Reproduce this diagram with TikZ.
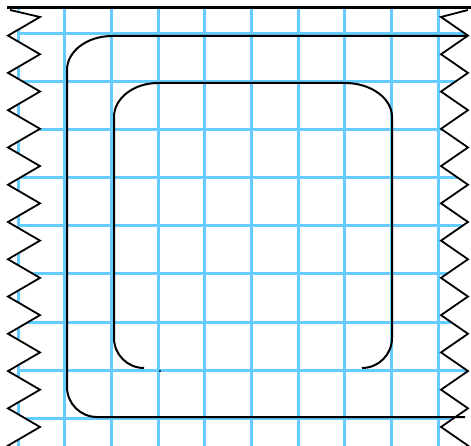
\documentclass[tikz,border=0pt]{standalone}
\usepackage{tikz}
\definecolor{gridblue}{RGB}{102,204,255}
\newcommand{\zigedge}[2]{\foreach \k in {0,...,12} {-- (#1,{17+37.27*\k}) -- (#2,{35.64+37.27*\k})}}

\begin{document}
\begin{tikzpicture}[x=1pt,y=-1pt,
  gridline/.style={gridblue,line width=3pt},
  inkline/.style={black,line width=2pt},
  tornedge/.style={black,line width=1.8pt,line join=miter}]

\useasboundingbox (0,0) rectangle (471,446);

\begin{scope}
\clip (10,8) \zigedge{40}{8} -- (8,480) -- (468,480)
  \foreach \k in {12,...,0} {-- (468,{35.64+37.27*\k}) -- (441,{17+37.27*\k})} -- (468,10) -- (468,8) -- cycle;
\foreach \i in {0,...,9} \draw[gridline] ({18+46.67*\i},8) -- ({18+46.67*\i},480);
\foreach \j in {0,...,8} \draw[gridline] (18,{34+48*\j}) -- (470,{34+48*\j});
\end{scope}

\draw[black,line width=3pt] (7,8) -- (471,8);
\draw[tornedge] (10,10) \zigedge{40}{8};
\draw[tornedge] (468,10) \zigedge{441}{468};

\draw[inkline] (467,36) -- (112,36)
  arc[start angle=90,end angle=180,x radius=45pt,y radius=34pt] -- (67,387)
  arc[start angle=180,end angle=270,radius=30pt] -- (465,417);

\draw[inkline] (362,368) arc[start angle=270,end angle=360,radius=30pt] -- (392,117)
  arc[start angle=0,end angle=90,x radius=47pt,y radius=34pt] -- (158,83)
  arc[start angle=90,end angle=180,x radius=44pt,y radius=34pt] -- (114,338)
  arc[start angle=180,end angle=270,radius=30pt];

\fill (160,371) circle[radius=1.2pt];

\end{tikzpicture}
\end{document}
